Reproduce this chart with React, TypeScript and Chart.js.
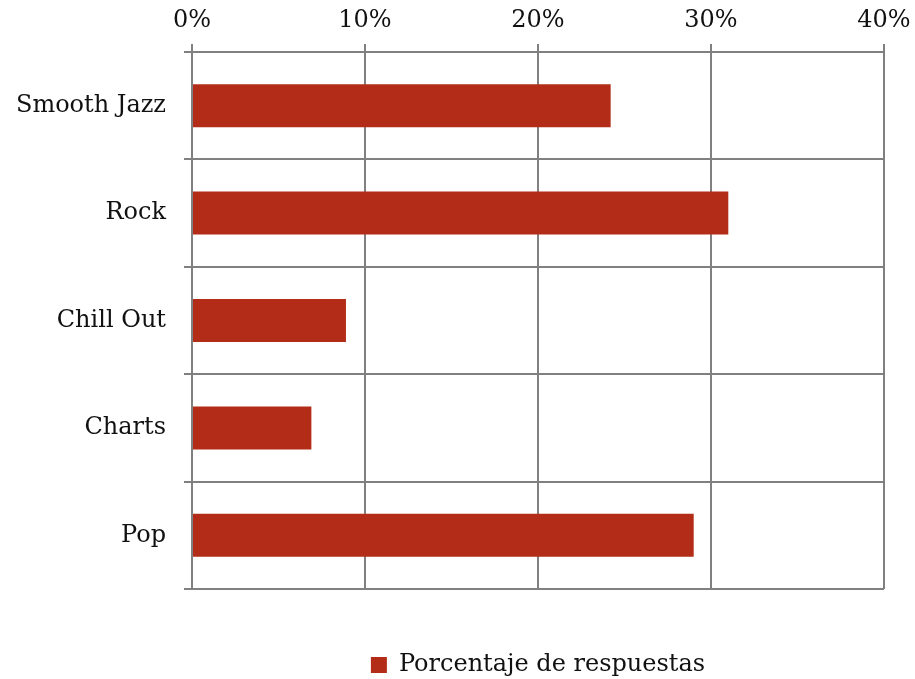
import React, { useEffect, useRef } from "react";
import { Chart, registerables } from "chart.js";

Chart.register(...registerables);

const categories = ["Smooth Jazz", "Rock", "Chill Out", "Charts", "Pop"];
const values = [24.2, 31.0, 8.9, 6.9, 29.0];
const seriesLabel = "Porcentaje de respuestas";
const xMin = 0;
const xMax = 40;
const xStep = 10;

const FONT = "'DejaVu Serif', serif";
const GRID = "#808080";
const BAR = "#B22C17";

export default function App() {
  const ref = useRef<HTMLCanvasElement | null>(null);
  useEffect(() => {
    document.body.style.margin = "0";
    const ctx = ref.current!.getContext("2d")!;
    const chart = new Chart(ctx, {
      type: "bar",
      data: {
        labels: categories,
        datasets: [
          {
            label: seriesLabel,
            data: values,
            backgroundColor: BAR,
            borderWidth: 0,
            barPercentage: 0.4,
            categoryPercentage: 1,
          },
        ],
      },
      options: {
        indexAxis: "y",
        animation: false,
        responsive: false,
        maintainAspectRatio: false,
        layout: { padding: { left: 0, right: 31, top: 0, bottom: -8 } },
        scales: {
          x: {
            position: "top",
            min: xMin,
            max: xMax,
            ticks: {
              stepSize: xStep,
              color: "#111",
              font: { family: FONT, size: 24 },
              padding: 9,
              callback: (v: any) => v + "%",
            },
            grid: {
              color: GRID,
              lineWidth: 2,
              tickLength: 8,
              drawTicks: true,
            },
            border: { display: true, color: GRID, width: 2 },
            afterFit: (s: any) => {
              s.height = 52;
              s.paddingLeft = 0;
              s.paddingRight = 0;
            },
          },
          y: {
            ticks: {
              color: "#111",
              font: { family: FONT, size: 24 },
              padding: 18,
            },
            grid: {
              color: GRID,
              lineWidth: 2,
              tickLength: 8,
              offset: true,
            },
            border: { display: true, color: GRID, width: 2 },
            afterFit: (s: any) => {
              s.width = 192;
              s.paddingTop = 0;
              s.paddingBottom = 0;
            },
          },
        },
        plugins: {
          tooltip: { enabled: false },
          legend: {
            position: "bottom",
            fullSize: false,
            labels: {
              color: "#111",
              font: { family: FONT, size: 24 },
              boxWidth: 16,
              boxHeight: 16,
              padding: 64,
            },
          },
        },
      },
    });
    return () => chart.destroy();
  }, []);
  return (
    <div style={{ position: "absolute", left: 0, top: 0, width: 915, height: 679 }}>
      <canvas ref={ref} width={915} height={679} style={{ width: 915, height: 679 }} />
    </div>
  );
}
